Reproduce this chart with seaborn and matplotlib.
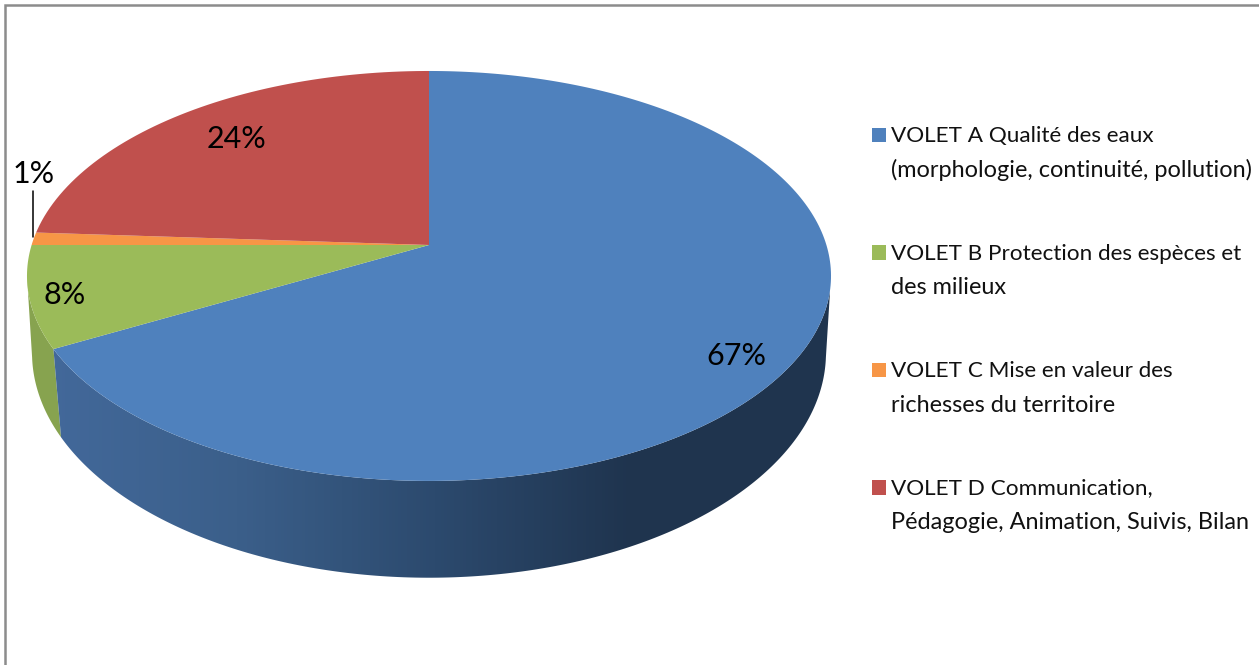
import numpy as np
import seaborn as sns
import matplotlib.pyplot as plt
from matplotlib.path import Path
from matplotlib.patches import Polygon, Rectangle
from matplotlib.transforms import Affine2D, Transform

# Values
volets = ["VOLET A Qualité des eaux\n(morphologie, continuité, pollution)",
          "VOLET B Protection des espèces et\ndes milieux",
          "VOLET C Mise en valeur des\nrichesses du territoire",
          "VOLET D Communication,\nPédagogie, Animation, Suivis, Bilan"]
parts = [67, 8, 1, 24]
colors = ["#4F81BD", "#9BBB59", "#F79646", "#C0504D"]
wall_blues = ["#43699B", "#3B5F8A", "#2C4A6E", "#1F344E", "#1F344E"]
wall_green = "#87A34F"

sns.set_theme(style="white")
plt.rcParams['font.family'] = ['Lato', 'DejaVu Sans']


# Tilted disc: the unit circle of the pie seen in perspective, in image pixels
class Tilt(Transform):
    input_dims = 2
    output_dims = 2

    def __init__(self, cx, cy, a, b, k):
        super().__init__()
        self.cx, self.cy, self.a, self.b, self.k = cx, cy, a, b, k

    def transform_non_affine(self, values):
        values = np.asarray(values)
        d = 1 + self.k * values[:, 1]
        return np.column_stack([self.cx + self.a * values[:, 0] / d,
                                self.cy - self.b * values[:, 1] / d])

    def transform_path_non_affine(self, path):
        # flatten at a large scale so the curves stay smooth
        big = path.transformed(Affine2D().scale(2000)).to_polygons(closed_only=True)[0]
        return Path(self.transform_non_affine(big / 2000), closed=True)


top_disc = Tilt(429, 245, 397.4, 200.3, 0.151)
base_disc = Tilt(429, 323.7, 393.6, 221, 0.13)

fig = plt.figure(figsize=(12.59, 6.65), dpi=100)
ax = fig.add_axes([0, 0, 1, 1])

wedges, _, pct_texts = ax.pie(parts, colors=colors, startangle=90, counterclock=False,
                              autopct='%.0f%%', wedgeprops={'linewidth': 0})
ax.set_aspect('auto')
ax.set_xlim(0, 1259)
ax.set_ylim(665, 0)
ax.axis('off')

for w in wedges:
    w.set_transform(top_disc + ax.transData)
    w.set_zorder(5)


# Side wall between two clockwise fractions of the pie
def wall(start, stop):
    t = 2 * np.pi * np.linspace(start, stop, 200)
    rim = np.column_stack([np.sin(t), np.cos(t)])
    return np.vstack([top_disc.transform(rim), base_disc.transform(rim)[::-1]])


a_end = parts[0] / sum(parts)

# only the front of the disc shows a wall
ax.add_patch(Polygon(wall(a_end, 0.726), facecolor=wall_green, linewidth=0, zorder=2))

blue_wall = Polygon(wall(0.274, a_end), facecolor='none', linewidth=0, zorder=3)
ax.add_patch(blue_wall)
shade = sns.blend_palette(wall_blues, as_cmap=True)
img = ax.imshow(np.linspace(0, 1, 256)[None, :], cmap=shade, aspect='auto',
                extent=(40, 830, 600, 100), zorder=3)
img.set_clip_path(blue_wall)
ax.set_xlim(0, 1259)
ax.set_ylim(665, 0)

# Percent labels
for txt, (x, y) in zip(pct_texts, [(736, 356), (65, 295), (34, 174), (237, 139)]):
    txt.set_position((x, y))
    txt.set_fontsize(22)
    txt.set_color('black')
    txt.set_zorder(7)
    txt.set_ha('center')
    txt.set_va('center')
ax.plot([33, 33], [191, 237], color='black', lw=1.1, zorder=6)

# Legend, first lines a bit smaller because the capitals run wide in this font
for i, (name, col) in enumerate(zip(volets, colors)):
    first, second = name.split("\n")
    y = 135 + 117.5 * i
    ax.add_patch(Rectangle((872.5, y - 7.5), 14, 14.5, facecolor=col, linewidth=0))
    ax.text(891, y + 1, first, fontsize=16.2, color='#111111', va='center', ha='left')
    ax.text(891, y + 35, second, fontsize=16.9, color='#111111', va='center', ha='left')

# Frame
ax.plot([5, 5, 1259], [665, 5, 5], color='#8C8C8C', lw=1.8, solid_joinstyle='miter')

fig.savefig("out.png", dpi=100)
